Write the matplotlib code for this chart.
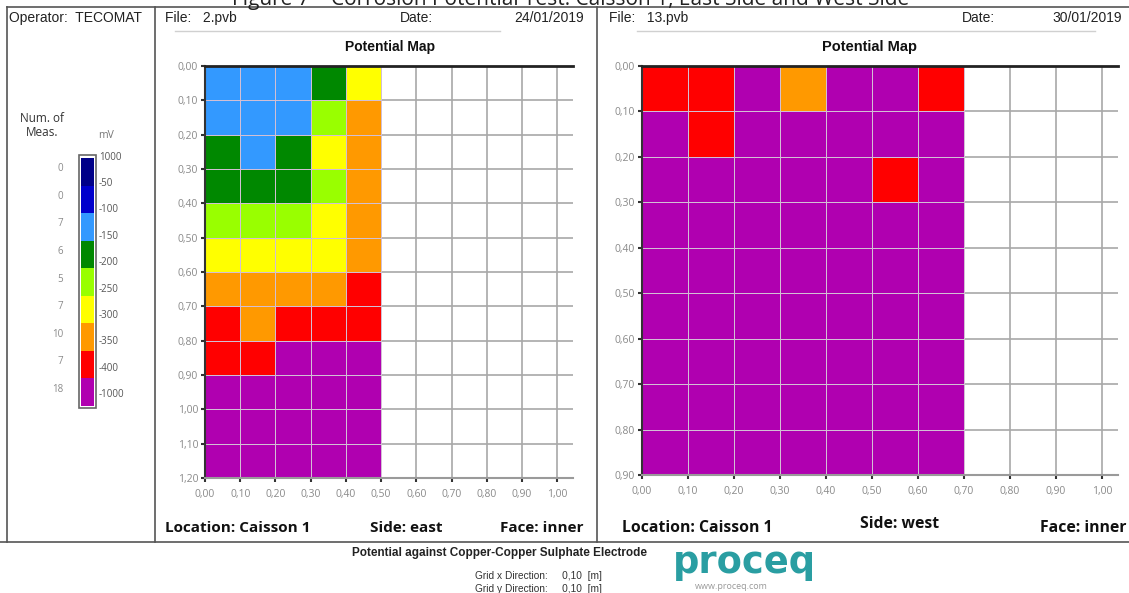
import numpy as np
import matplotlib
matplotlib.use("Agg")
from matplotlib import pyplot as plt
from matplotlib import colors as mcolors
from matplotlib import ticker
from matplotlib.patches import Rectangle

# potential classes (mV), boundaries of the legend bands
band_edges = [-1000, -400, -350, -300, -250, -200, -150, -100, -50, 1000]
band_colors = ["#b000b0", "#ff0000", "#ff9900", "#ffff00", "#99ff00",
               "#008800", "#3399ff", "#0000cc", "#000088"]
band_labels = ["1000", "-50", "-100", "-150", "-200", "-250", "-300", "-350", "-400", "-1000"]
band_counts = ["0", "0", "7", "6", "5", "7", "10", "7", "18"]   # top to bottom

# east side, rows = y 0.00..1.20 step 0.10, cols = x 0.00..0.50
# values are estimated potentials in mV (only the colour band is readable)
east_mv = [
    [-125, -125, -125, -175, -275],
    [-125, -125, -125, -225, -325],
    [-175, -125, -175, -275, -325],
    [-175, -175, -175, -225, -325],
    [-225, -225, -225, -275, -325],
    [-275, -275, -275, -275, -325],
    [-325, -325, -325, -325, -375],
    [-375, -325, -375, -375, -375],
    [-375, -375, -450, -450, -450],
    [-450, -450, -450, -450, -450],
    [-450, -450, -450, -450, -450],
    [-450, -450, -450, -450, -450],
]
# west side, rows = y 0.00..0.90, cols = x 0.00..0.70
west_mv = [
    [-375, -375, -450, -325, -450, -450, -375],
    [-450, -375, -450, -450, -450, -450, -450],
    [-450, -450, -450, -450, -450, -375, -450],
    [-450, -450, -450, -450, -450, -450, -450],
    [-450, -450, -450, -450, -450, -450, -450],
    [-450, -450, -450, -450, -450, -450, -450],
    [-450, -450, -450, -450, -450, -450, -450],
    [-450, -450, -450, -450, -450, -450, -450],
    [-450, -450, -450, -450, -450, -450, -450],
]
grid_step = 0.10

W, H = 1129, 593
cmap = mcolors.ListedColormap(band_colors)
norm = mcolors.BoundaryNorm(band_edges, cmap.N)

NARROW = ["Liberation Sans Narrow", "Liberation Sans", "DejaVu Sans"]
OPEN = ["Open Sans", "DejaVu Sans"]
TICKGRAY = "#8a8a8a"


def px_axes(fig, x0, y0, x1, y1):
    # axes from pixel box (top-left origin)
    return fig.add_axes([x0 / W, 1 - y1 / H, (x1 - x0) / W, (y1 - y0) / H])


def comma_fmt(v, pos):
    return f"{v:.2f}".replace(".", ",")


def draw_map(ax, data, xmax, ymax):
    data = np.array(data, dtype=float)
    ny, nx = data.shape
    xe = np.arange(nx + 1) * grid_step
    ye = np.arange(ny + 1) * grid_step
    ax.pcolormesh(xe, ye, data, cmap=cmap, norm=norm,
                  edgecolors="#d2bfd4", linewidth=0.7, zorder=1)
    ax.set_xlim(0, xmax)
    ax.set_ylim(ymax, 0)
    ax.set_xticks(np.arange(0, 1.001, grid_step))
    ax.set_yticks(np.arange(0, ymax + 0.001, grid_step))
    ax.xaxis.set_major_formatter(ticker.FuncFormatter(comma_fmt))
    ax.yaxis.set_major_formatter(ticker.FuncFormatter(comma_fmt))
    ax.set_axisbelow(True)
    ax.grid(True, color="#a8a8a8", linewidth=1.2, zorder=0)
    ax.tick_params(axis="both", length=3, width=1.5, color="#333333",
                   labelcolor=TICKGRAY, labelsize=7.5)
    ax.tick_params(axis="x", pad=5)
    ax.tick_params(axis="y", pad=2)
    for lab in ax.get_xticklabels() + ax.get_yticklabels():
        lab.set_family(OPEN)
    ax.spines["right"].set_visible(False)
    ax.spines["top"].set_color("#222222")
    ax.spines["top"].set_linewidth(2)
    ax.spines["top"].set_zorder(5)
    ax.spines["left"].set_color("#333333")
    ax.spines["left"].set_linewidth(1.5)
    ax.spines["bottom"].set_color("#9a9a9a")
    ax.spines["bottom"].set_linewidth(1.5)


fig = plt.figure(figsize=(W / 100, H / 100), dpi=100)
fig.patch.set_facecolor("white")

# background axes in pixel coordinates for frames and text
bg = fig.add_axes([0, 0, 1, 1])
bg.set_xlim(0, W)
bg.set_ylim(H, 0)
bg.axis("off")

line_kw = dict(color="#555555", linewidth=1.2)
bg.plot([7, W], [7, 7], **line_kw)
bg.plot([7, 7], [7, 542], **line_kw)
bg.plot([155, 155], [7, 542], **line_kw)
bg.plot([597, 597], [7, 542], **line_kw)
bg.plot([0, W], [542, 542], **line_kw)
bg.plot([175, 500], [31, 31], color="#d0d0d0", linewidth=1)
bg.plot([637, 1095], [31, 31], color="#d0d0d0", linewidth=1)

# caption at the very top, cut by the page edge as in the source scan
bg.text(571, 5, "Figure 7 \u2013 Corrosion Potential Test: Caisson 1, East Side and West Side",
        ha="center", va="baseline", fontsize=15, family=OPEN, color="#222222")

hdr = dict(va="center", fontsize=10, family=NARROW, color="#222222")
bg.text(9, 18, "Operator:  TECOMAT", ha="left", **hdr)
bg.text(165, 18, "File:   2.pvb", ha="left", **hdr)
bg.text(400, 18, "Date:", ha="left", **hdr)
bg.text(584, 18, "24/01/2019", ha="right", **hdr)
bg.text(609, 18, "File:   13.pvb", ha="left", **hdr)
bg.text(962, 18, "Date:", ha="left", **hdr)
bg.text(1122, 18, "30/01/2019", ha="right", **hdr)

bg.text(390, 47, "Potential Map", ha="center", va="center", fontsize=10,
        weight="bold", family=["Liberation Sans", "DejaVu Sans"], color="#111111")
bg.text(870, 47, "Potential Map", ha="center", va="center", fontsize=10.5,
        weight="bold", family=["Liberation Sans", "DejaVu Sans"], color="#111111")

# legend
bg.text(42, 119, "Num. of", ha="center", va="center", fontsize=8.5, family=OPEN, color="#333333")
bg.text(42, 133, "Meas.", ha="center", va="center", fontsize=8.5, family=OPEN, color="#333333")
bg.text(106, 136, "mV", ha="center", va="center", fontsize=7.5, family=OPEN, color="#777777")
bg.add_patch(Rectangle((79, 155), 17, 253, fill=False, edgecolor="#666666", linewidth=1.2))

cax = px_axes(fig, 81, 158, 94, 406)
nb = len(band_colors)
cax.pcolormesh([0, 1], np.arange(nb + 1), np.array(band_edges[:-1], dtype=float).reshape(-1, 1) + 1,
               cmap=cmap, norm=norm)
cax.set_xlim(0, 1)
cax.set_ylim(0, nb)
cax.set_xticks([])
cax.set_yticks([])
for s in cax.spines.values():
    s.set_visible(False)

seg_top, seg_h = 158, (406 - 158) / nb
for i, lab in enumerate(band_labels):
    bg.text(99, 157 + i * 26.4, lab, ha="left", va="center", fontsize=7,
            family=OPEN, color="#555555")
for i, cnt in enumerate(band_counts):
    bg.text(63, seg_top + (i + 0.5) * seg_h - 3, cnt, ha="right", va="center",
            fontsize=7, family=OPEN, color="#8a8a8a")

# maps
ax_e = px_axes(fig, 205, 66, 573, 478)
draw_map(ax_e, east_mv, 1.045, 1.20)
ax_w = px_axes(fig, 642, 66, 1118, 475)
draw_map(ax_w, west_mv, 1.035, 0.90)

# location captions
cap = dict(va="center", weight="bold", family=OPEN, color="#111111")
bg.text(165, 528, "Location: Caisson 1", ha="left", fontsize=11, **cap)
bg.text(406, 528, "Side: east", ha="center", fontsize=11, **cap)
bg.text(583, 528, "Face: inner", ha="right", fontsize=11, **cap)
bg.text(622, 528, "Location: Caisson 1", ha="left", fontsize=11.3, **cap)
bg.text(900, 524, "Side: west", ha="center", fontsize=11.3, **cap)
bg.text(1127, 528, "Face: inner", ha="right", fontsize=11.3, **cap)

# footer
bg.text(500, 553, "Potential against Copper-Copper Sulphate Electrode", ha="center",
        va="center", fontsize=8.5, weight="bold", family=NARROW, color="#222222")
bg.text(475, 576, "Grid x Direction:     0,10  [m]", ha="left", va="center",
        fontsize=7.3, family=NARROW, color="#333333")
bg.text(475, 589, "Grid y Direction:     0,10  [m]", ha="left", va="center",
        fontsize=7.3, family=NARROW, color="#333333")
bg.text(673, 573, "proceq", ha="left", va="baseline", fontsize=26.5, weight="bold",
        family=["DejaVu Sans"], color="#2a9ea2")
bg.text(695, 589, "www.proceq.com", ha="left", va="baseline", fontsize=6.5,
        family=OPEN, color="#999999")

fig.savefig("out.png", dpi=100)
